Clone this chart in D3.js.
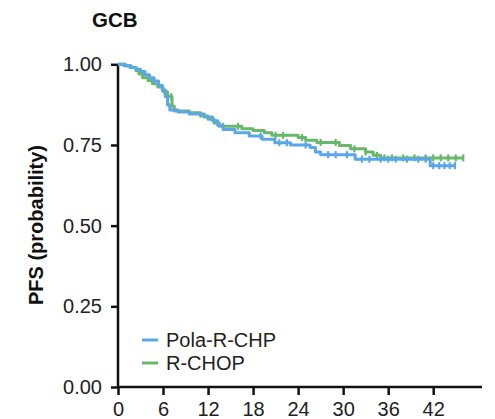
<!DOCTYPE html>
<html><head><meta charset="utf-8">
<script src="https://cdn.jsdelivr.net/npm/d3@7"></script>
<style>
html,body{margin:0;padding:0;background:#fff;}
svg{display:block;}
text{font-family:"Liberation Sans",Arial,Helvetica,sans-serif;}
</style></head>
<body>
<svg id="c" width="495" height="419"></svg>
<script>
// ---- data ----
const title = "GCB";
const yLabel = "PFS (probability)";
const seriesNames = ["Pola-R-CHP", "R-CHOP"];
const xTicks = [0, 6, 12, 18, 24, 30, 36, 42];
const yTicks = [0, 0.25, 0.5, 0.75, 1.0];

const polaTimes = [0, 0.8, 1.6, 2.4, 3.0, 3.6, 4.2, 4.8, 5.4, 5.9, 6.3, 6.6, 6.9, 8.0, 9.5, 11.5, 12.6, 13.3, 14.0, 15.6, 17.5, 19.2, 20.9, 23.0, 25.6, 26.3, 27.0, 31.6, 41.6, 44.9];
const polaSurv  = [1.0, 0.996, 0.99, 0.985, 0.978, 0.968, 0.958, 0.948, 0.935, 0.92, 0.9, 0.875, 0.858, 0.852, 0.846, 0.837, 0.825, 0.81, 0.798, 0.788, 0.778, 0.768, 0.757, 0.75, 0.742, 0.728, 0.72, 0.706, 0.686, 0.686];
const polaCensor = [19, 21.5, 22.5, 25, 28, 29, 30.5, 32.5, 33.5, 35, 36, 37, 38.5, 40, 41, 42, 42.8, 43.5, 44.2, 44.9];

const rchopTimes = [0, 1.0, 1.8, 2.4, 2.8, 3.3, 4.0, 4.6, 5.3, 6.0, 6.6, 7.2, 7.5, 9.5, 11.0, 12.0, 12.8, 13.5, 16.5, 18.0, 19.5, 20.5, 24.0, 25.0, 26.5, 29.5, 31.0, 33.0, 34.0, 35.0, 46.0];
const rchopSurv  = [1.0, 0.995, 0.99, 0.98, 0.97, 0.958, 0.95, 0.94, 0.93, 0.915, 0.9, 0.87, 0.855, 0.85, 0.84, 0.83, 0.818, 0.808, 0.8, 0.795, 0.788, 0.78, 0.773, 0.765, 0.758, 0.748, 0.738, 0.728, 0.718, 0.71, 0.71];
const rchopCensor = [7.1, 14, 16, 21, 22, 24.5, 27, 29, 31.5, 33, 34.5, 35.5, 36.5, 38, 39.5, 41, 42, 43, 44, 45, 46];

const colors = ["#5ba6ea", "#68b86a"];

// ---- layout ----
const svg = d3.select("#c");
const x = d3.scaleLinear().domain([0, 48.5]).range([118, 482]);
const y = d3.scaleLinear().domain([0, 1]).range([387, 64.3]);

// title
svg.append("text").attr("x", 92).attr("y", 27).attr("font-size", 20.5).attr("font-weight", "bold").attr("fill", "#111").text(title);

// y label
svg.append("text").attr("transform", "translate(43,225) rotate(-90)").attr("text-anchor", "middle")
  .attr("font-size", 20).attr("font-weight", "bold").attr("fill", "#111").text(yLabel);

// axes
const yAxis = d3.axisLeft(y).tickValues(yTicks).tickFormat(d3.format(".2f")).tickSize(7).tickPadding(9);
const gy = svg.append("g").attr("transform", `translate(${x(0)},0)`).call(yAxis);
const xAxis = d3.axisBottom(x).tickValues(xTicks).tickFormat(d3.format("d")).tickSize(8).tickPadding(7);
const gx = svg.append("g").attr("transform", `translate(0,${y(0)})`).call(xAxis);
[gx, gy].forEach(g => {
  g.select(".domain").attr("stroke", "#111").attr("stroke-width", 2.5);
  g.selectAll(".tick line").attr("stroke", "#111").attr("stroke-width", 2.5);
  g.selectAll(".tick text").attr("font-size", 20).attr("fill", "#222")
    .attr("font-family", '"Liberation Sans",Arial,sans-serif');
});
gy.select(".domain").attr("d", `M0,${y(0)}V${y(1)}`);
gx.select(".domain").attr("d", `M${x(0)},0H${x(48.5)}`);

// curves
const series = [
  {t: polaTimes, s: polaSurv, c: polaCensor, col: colors[0]},
  {t: rchopTimes, s: rchopSurv, c: rchopCensor, col: colors[1]}
];
const line = d3.line().curve(d3.curveStepAfter).x(d => x(d[0])).y(d => y(d[1]));
// draw R-CHOP first, then Pola on top
[series[1], series[0]].forEach(sr => {
  const pts = sr.t.map((t, i) => [t, sr.s[i]]);
  svg.append("path").attr("d", line(pts)).attr("fill", "none")
    .attr("stroke", sr.col).attr("stroke-width", 3).attr("stroke-linejoin", "round");
  const bis = d3.bisector(d => d).right;
  svg.append("g").selectAll("line").data(sr.c).join("line")
    .attr("x1", d => x(d)).attr("x2", d => x(d))
    .attr("y1", d => y(sr.s[Math.max(0, bis(sr.t, d) - 1)]) - 3.5)
    .attr("y2", d => y(sr.s[Math.max(0, bis(sr.t, d) - 1)]) + 3.5)
    .attr("stroke", sr.col).attr("stroke-width", 2.2);
});

// legend
const leg = svg.append("g");
seriesNames.forEach((n, i) => {
  const yy = 340 + i * 23;
  leg.append("line").attr("x1", 142).attr("x2", 158).attr("y1", yy).attr("y2", yy)
    .attr("stroke", colors[i]).attr("stroke-width", 3);
  leg.append("text").attr("x", 166).attr("y", yy + 7).attr("font-size", 20).attr("fill", "#222").text(n);
});
</script>
</body></html>
